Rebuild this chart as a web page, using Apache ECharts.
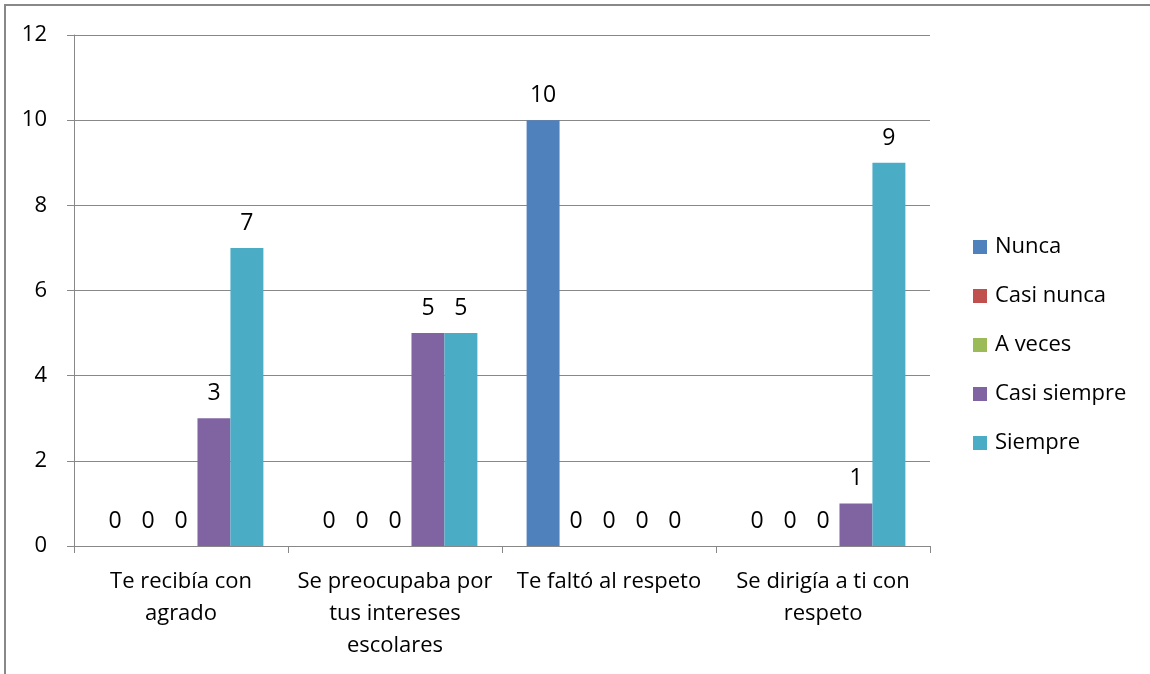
<!DOCTYPE html>
<html>
<head>
<meta charset="utf-8">
<script src="https://cdn.jsdelivr.net/npm/echarts@6/dist/echarts.min.js"></script>
<style>
html, body { margin: 0; padding: 0; background: #fff; }
#root { width: 1150px; height: 674px; }
</style>
</head>
<body>
<div id="root"></div>
<script>
var categories = ['Te recibía con\nagrado', 'Se preocupaba por\ntus intereses\nescolares', 'Te faltó al respeto', 'Se dirigía a ti con\nrespeto']
var seriesNames = ['Nunca', 'Casi nunca', 'A veces', 'Casi siempre', 'Siempre']
var nunca = [0, 0, 10, 0]
var casiNunca = [0, 0, 0, 0]
var aVeces = [0, 0, 0, 0]
var casiSiempre = [3, 5, 0, 1]
var siempre = [7, 5, 0, 9]
var colors = ['#4F81BD', '#C0504D', '#9BBB59', '#8064A2', '#4BACC6']

var font = '"Open Sans", sans-serif'
var values = [nunca, casiNunca, aVeces, casiSiempre, siempre]

var series = seriesNames.map((name, i) => {
	return {
		name: name,
		type: 'bar',
		data: values[i],
		barGap: '0%',
		barCategoryGap: '23%',
		itemStyle: { color: colors[i] },
		label: {
			show: true,
			position: 'top',
			distance: 13,
			color: '#000',
			fontSize: 23,
			fontFamily: font
		}
	}
})

var chart = echarts.init(document.getElementById('root'))
chart.setOption({
	animation: false,
	color: colors,
	grid: { left: 74, right: 220, top: 35, bottom: 128, containLabel: false },
	graphic: [{
		type: 'rect',
		shape: { x: 5, y: 5, width: 1160, height: 700 },
		style: { fill: 'none', stroke: '#888', lineWidth: 2 },
		silent: true
	}],
	legend: {
		orient: 'vertical',
		left: 968,
		top: 231,
		icon: 'rect',
		itemWidth: 14,
		itemHeight: 14,
		itemGap: 27,
		textStyle: { fontSize: 22, fontFamily: font, color: '#000', padding: [0, 0, 0, 3] },
		data: seriesNames
	},
	xAxis: {
		type: 'category',
		data: categories,
		axisLine: { lineStyle: { color: '#888', width: 1 } },
		axisTick: { show: true, length: 7, lineStyle: { color: '#888' } },
		axisLabel: { color: '#000', fontSize: 22, fontFamily: font, lineHeight: 32, margin: 20, interval: 0 }
	},
	yAxis: {
		type: 'value',
		min: 0,
		max: 12,
		interval: 2,
		axisLine: { show: true, lineStyle: { color: '#888', width: 1 } },
		axisTick: { show: true, length: 7, lineStyle: { color: '#888' } },
		splitLine: { lineStyle: { color: '#888', width: 1 } },
		axisLabel: { color: '#000', fontSize: 22, fontFamily: font, margin: 27 }
	},
	series
})
</script>
</body>
</html>
